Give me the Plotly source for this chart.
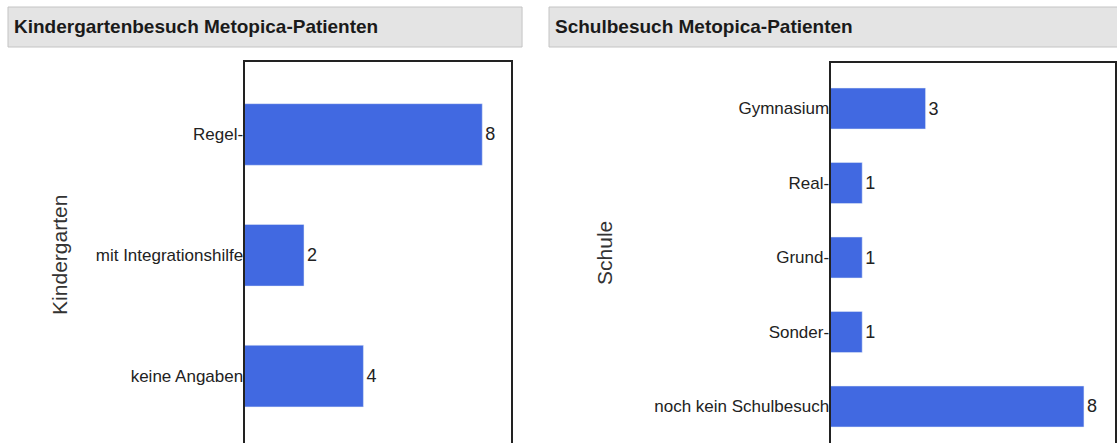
import plotly.graph_objects as go

W, H = 1117, 443

# data
kg_categories = ["Regel-", "mit Integrationshilfe", "keine Angaben"]
kg_values = [8, 2, 4]
school_categories = ["Gymnasium", "Real-", "Grund-", "Sonder-", "noch kein Schulbesuch"]
school_values = [3, 1, 1, 1, 8]

title_left = "Kindergartenbesuch Metopica-Patienten"
title_right = "Schulbesuch Metopica-Patienten"
axis_title_left = "Kindergarten"
axis_title_right = "Schule"

BAR = "#4169e1"
FONT = "Liberation Sans, Arial, sans-serif"


def px(x):
    return x / W


def py(y):
    return 1 - y / H


fig = go.Figure()
fig.add_trace(go.Bar(
    x=kg_values, y=kg_categories, orientation="h", marker_color=BAR, width=0.51,
    text=[str(v) for v in kg_values], textposition="outside", cliponaxis=False,
    textfont=dict(family=FONT, size=18, color="#222"),
    xaxis="x", yaxis="y", showlegend=False))
fig.add_trace(go.Bar(
    x=school_values, y=school_categories, orientation="h", marker_color=BAR, width=0.55,
    text=[str(v) for v in school_values], textposition="outside", cliponaxis=False,
    textfont=dict(family=FONT, size=18, color="#222"),
    xaxis="x2", yaxis="y2", showlegend=False))

line = dict(showline=True, linecolor="#222", linewidth=2)
fig.update_layout(
    width=W, height=H, margin=dict(l=0, r=0, t=0, b=0),
    paper_bgcolor="white", plot_bgcolor="white",
    xaxis=dict(domain=[px(245), px(512)], range=[0, 8.97], side="top",
               showticklabels=False, showgrid=False, zeroline=False, ticks="",
               anchor="y", **line),
    yaxis=dict(domain=[0, py(62)], range=[2.554, -0.6], type="category",
               categoryorder="array", categoryarray=kg_categories,
               showgrid=False, zeroline=False, ticks="", mirror=True,
               ticklabelstandoff=-4,
               tickfont=dict(family=FONT, size=17, color="#222"),
               anchor="x", **line),
    xaxis2=dict(domain=[px(832), 1], range=[0, 8.98], side="top",
                showticklabels=False, showgrid=False, zeroline=False, ticks="",
                anchor="y2", **line),
    yaxis2=dict(domain=[0, py(63)], range=[4.49, -0.611], type="category",
                categoryorder="array", categoryarray=school_categories,
                showgrid=False, zeroline=False, ticks="", mirror=True,
                ticklabelstandoff=-4,
                tickfont=dict(family=FONT, size=17, color="#222"),
                anchor="x2", **line),
)

# title bars
for x0, x1 in [(8, 523), (550, 1125)]:
    fig.add_shape(type="rect", xref="paper", yref="paper",
                  x0=px(x0), x1=px(x1), y0=py(47), y1=py(7),
                  fillcolor="#e4e4e4", line=dict(color="#c4c4c4", width=1), layer="below")

fig.add_annotation(text="<b>" + title_left + "</b>", xref="paper", yref="paper",
                   x=px(12), y=py(27), xanchor="left", yanchor="middle", showarrow=False,
                   font=dict(family=FONT, size=19, color="#1a1a1a"))
fig.add_annotation(text="<b>" + title_right + "</b>", xref="paper", yref="paper",
                   x=px(554), y=py(27), xanchor="left", yanchor="middle", showarrow=False,
                   font=dict(family=FONT, size=19, color="#1a1a1a"))

fig.add_annotation(text=axis_title_left, xref="paper", yref="paper",
                   x=px(59), y=py(255), textangle=-90, showarrow=False,
                   xanchor="center", yanchor="middle",
                   font=dict(family=FONT, size=21, color="#333"))
fig.add_annotation(text=axis_title_right, xref="paper", yref="paper",
                   x=px(605), y=py(253), textangle=-90, showarrow=False,
                   xanchor="center", yanchor="middle",
                   font=dict(family=FONT, size=21, color="#333"))

fig.write_html("out.html")
